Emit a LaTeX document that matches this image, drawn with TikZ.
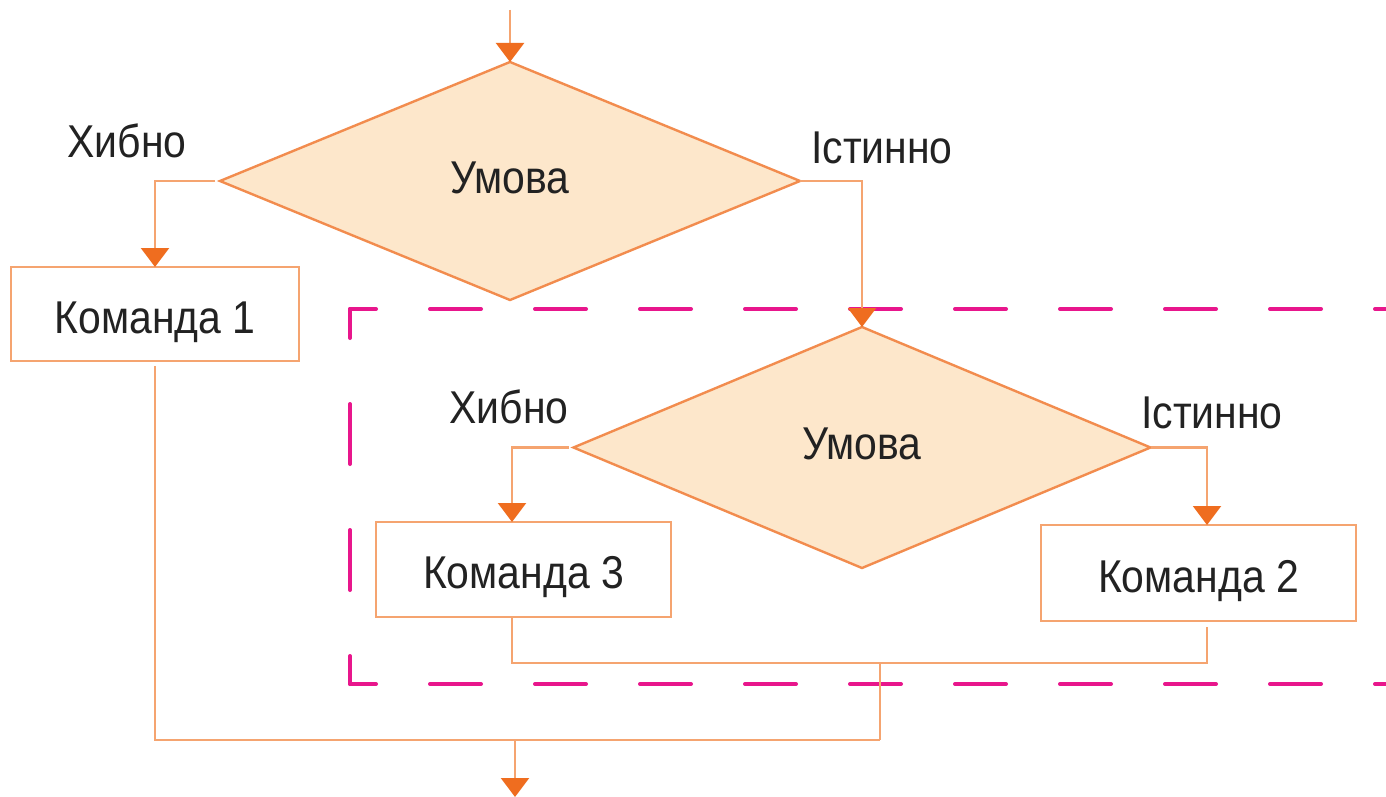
\documentclass[tikz,border=0pt]{standalone}
\usepackage{fontspec}
\setmainfont[FakeStretch=0.89]{Liberation Sans}
\usetikzlibrary{shapes.geometric,arrows.meta}

\definecolor{lineC}{HTML}{F5A470}
\definecolor{edgeC}{HTML}{F28C4E}
\definecolor{tipC}{HTML}{EF6D1F}
\definecolor{fillC}{HTML}{FDE7CB}
\definecolor{frameC}{HTML}{E8168C}
\definecolor{textC}{HTML}{222222}

\begin{document}
\begin{tikzpicture}[x=0.5pt,y=-0.5pt,
  txt/.style={font=\fontsize{23}{27}\selectfont, text=textC},
  cond/.style={diamond, txt, draw=edgeC, fill=fillC, line width=1.2pt,
    inner sep=0pt, outer sep=0pt, text height=12pt, text depth=0pt},
  cmd/.style={rectangle, txt, draw=lineC, fill=white, line width=1.2pt,
    inner sep=0pt, outer sep=0pt, text height=19pt, text depth=0pt},
  link/.style={draw=lineC, line width=1.1pt},
  flow/.style={link, -{Triangle[width=14pt,length=9.5pt,color=tipC]}},
  lbl/.style={txt, anchor=base, inner sep=0pt},
  frame/.style={draw=frameC, line width=2pt, line cap=round},
  hdash/.style={dash pattern=on 25.5pt off 27pt, dash phase=12.5pt},
  vdash/.style={dash pattern=on 30pt off 33pt, dash phase=15.5pt}
]
\useasboundingbox[fill=white] (0,0) rectangle (1386,797);

% nested block boundary
\draw[frame, hdash] (350,309) -- (1386,309);
\draw[frame, vdash] (350,309) -- (350,684);
\draw[frame, hdash] (350,684) -- (1386,684);

% blocks
\node[cond, minimum width=290pt, minimum height=119pt] (d1) at (510,181) {Умова};
\node[cond, minimum width=288.5pt, minimum height=120.5pt] (d2) at (862,447.5) {Умова};
\node[cmd, minimum width=144pt, minimum height=47pt] (c1) at (155,314) {Команда 1};
\node[cmd, minimum width=147.5pt, minimum height=47.5pt] (c3) at (523.5,569.5) {Команда 3};
\node[cmd, minimum width=157.5pt, minimum height=48pt] (c2) at (1198.5,573) {Команда 2};

% branch labels
\node[lbl] (f1) at (127,157) {Хибно};
\node[lbl] (t1) at (882,163) {Істинно};
\node[lbl] (f2) at (509,423) {Хибно};
\node[lbl] (t2) at (1212,428) {Істинно};

% routing columns and junctions
\coordinate (col3) at (512,0);
\coordinate (colR) at (1207,0);
\coordinate (j2) at (880,663);
\coordinate (j1) at (880,740);
\coordinate (start) at (510,10);
\coordinate (stop) at (515,797);

% connectors
\draw[flow] (start) -- (d1.north);
\draw[flow, shorten <=2.5pt] (d1.west) -| (c1.north);
\draw[flow] (d1.east) -| (d2.north);
\draw[flow, shorten <=2.5pt] (d2.west) -| (c3.north -| col3);
\draw[flow] (d2.east) -| (c2.north -| colR);
\draw[link, shorten >=3pt] (c3.south -| col3) |- (j2) -| (c2.south -| colR);
\draw[link] (j2) -- (j1);
\draw[link, shorten <=2.5pt] (c1.south) |- (j1);
\draw[flow] (j1 -| stop) -- (stop);
\end{tikzpicture}
\end{document}
